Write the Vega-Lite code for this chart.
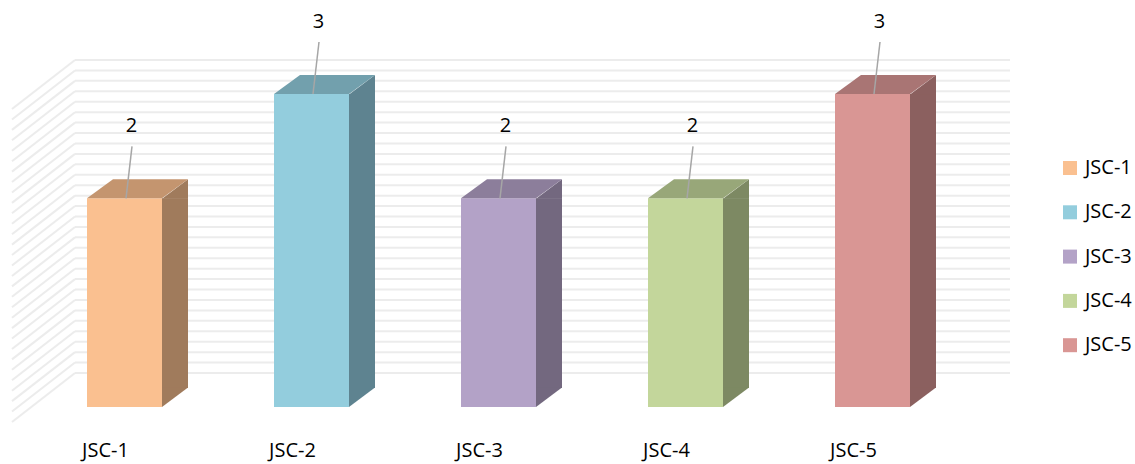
{
  "$schema": "https://vega.github.io/schema/vega-lite/v6.json",
  "width": 935,
  "height": 313,
  "autosize": "none",
  "padding": {"left": 31, "top": 94, "right": 169, "bottom": 57},
  "background": "white",
  "config": {
    "view": {"stroke": null},
    "font": "Open Sans",
    "axisX": {"domain": false, "ticks": false, "tickSize": 0, "grid": false, "labelFont": "Open Sans", "labelFontSize": 20, "labelColor": "#000000", "labelPadding": 49, "labelBaseline": "alphabetic", "labelOffset": -19, "labelAngle": 0}
  },
  "datasets": {
    "bars": [
      {"name": "JSC-1", "value": 2},
      {"name": "JSC-2", "value": 3},
      {"name": "JSC-3", "value": 2},
      {"name": "JSC-4", "value": 2},
      {"name": "JSC-5", "value": 3}
    ],
    "grid": [
      {"v": 0}, {"v": 0.1}, {"v": 0.2}, {"v": 0.3}, {"v": 0.4}, {"v": 0.5}, {"v": 0.6}, {"v": 0.7}, {"v": 0.8}, {"v": 0.9},
      {"v": 1}, {"v": 1.1}, {"v": 1.2}, {"v": 1.3}, {"v": 1.4}, {"v": 1.5}, {"v": 1.6}, {"v": 1.7}, {"v": 1.8}, {"v": 1.9},
      {"v": 2}, {"v": 2.1}, {"v": 2.2}, {"v": 2.3}, {"v": 2.4}, {"v": 2.5}, {"v": 2.6}, {"v": 2.7}, {"v": 2.8}, {"v": 2.9},
      {"v": 3}
    ]
  },
  "resolve": {"scale": {"color": "independent"}},
  "layer": [
    {
      "data": {"name": "grid"},
      "mark": {"type": "rule", "stroke": "#ececec", "strokeWidth": 2, "xOffset": -49.5, "x2Offset": 137.5, "yOffset": -34, "y2Offset": -34},
      "encoding": {
        "x": {"datum": "JSC-1", "type": "nominal", "axis": {"title": null}},
        "x2": {"datum": "JSC-5"},
        "y": {"field": "v", "type": "quantitative", "scale": {"domain": [0, 3], "nice": false, "zero": true}, "axis": null},
        "y2": {"field": "v"}
      }
    },
    {
      "data": {"name": "grid"},
      "mark": {"type": "rule", "stroke": "#ececec", "strokeWidth": 2, "xOffset": -49.5, "x2Offset": -112.5, "yOffset": -34, "y2Offset": 15},
      "encoding": {
        "x": {"datum": "JSC-1", "type": "nominal", "axis": {"title": null}},
        "x2": {"datum": "JSC-1"},
        "y": {"field": "v", "type": "quantitative", "scale": {"domain": [0, 3], "nice": false, "zero": true}, "axis": null},
        "y2": {"field": "v"}
      }
    },
    {
      "data": {"name": "bars"},
      "mark": {"type": "bar", "width": 26, "xOffset": 50.5, "y2Offset": -19},
      "encoding": {
        "x": {"field": "name", "type": "nominal", "scale": {"paddingInner": 0, "paddingOuter": 0}, "axis": {"title": null}},
        "y": {"field": "value", "type": "quantitative", "scale": {"domain": [0, 3], "nice": false, "zero": true}, "axis": null},
        "y2": {"datum": 0},
        "color": {"field": "name", "type": "nominal", "legend": null, "scale": {"range": ["#a07b5c", "#5e8390", "#73687f", "#7d8963", "#8b605f"]}}
      }
    },
    {
      "data": {"name": "bars"},
      "mark": {"type": "point", "shape": "M37.5,-19.5 L63.5,-19.5 L37.5,0 Z", "size": 4, "filled": true, "opacity": 1, "strokeWidth": 0},
      "encoding": {
        "x": {"field": "name", "type": "nominal", "axis": {"title": null}},
        "y": {"datum": 0, "type": "quantitative", "scale": {"domain": [0, 3], "nice": false, "zero": true}, "axis": null},
        "color": {"field": "name", "type": "nominal", "legend": null, "scale": {"range": ["#a07b5c", "#5e8390", "#73687f", "#7d8963", "#8b605f"]}}
      }
    },
    {
      "data": {"name": "bars"},
      "mark": {"type": "point", "shape": "M37.5,0.5 L63.5,-19 L63.5,0.5 Z", "size": 4, "filled": true, "opacity": 1, "strokeWidth": 0},
      "encoding": {
        "x": {"field": "name", "type": "nominal", "axis": {"title": null}},
        "y": {"field": "value", "type": "quantitative", "scale": {"domain": [0, 3], "nice": false, "zero": true}, "axis": null},
        "color": {"field": "name", "type": "nominal", "legend": null, "scale": {"range": ["#a07b5c", "#5e8390", "#73687f", "#7d8963", "#8b605f"]}}
      }
    },
    {
      "data": {"name": "bars"},
      "mark": {"type": "bar", "width": 75},
      "encoding": {
        "x": {"field": "name", "type": "nominal", "axis": {"title": null}},
        "y": {"field": "value", "type": "quantitative", "scale": {"domain": [0, 3], "nice": false, "zero": true}, "axis": null},
        "y2": {"datum": 0},
        "color": {
          "field": "name", "type": "nominal",
          "scale": {"range": ["#fac090", "#93cddd", "#b3a2c7", "#c3d69b", "#d99694"]},
          "legend": {"title": null, "orient": "none", "legendX": 1029, "legendY": 64, "padding": 0, "symbolType": "square", "symbolSize": 196, "symbolStrokeWidth": 0, "labelFont": "Open Sans", "labelFontSize": 20, "labelColor": "#000000", "labelOffset": 5, "rowPadding": 24.3}
        }
      }
    },
    {
      "data": {"name": "bars"},
      "mark": {"type": "point", "shape": "M-37.5,0 L37.5,0 L63.5,-19 L-11.5,-19 Z", "size": 4, "filled": true, "opacity": 1, "strokeWidth": 0},
      "encoding": {
        "x": {"field": "name", "type": "nominal", "axis": {"title": null}},
        "y": {"field": "value", "type": "quantitative", "scale": {"domain": [0, 3], "nice": false, "zero": true}, "axis": null},
        "color": {"field": "name", "type": "nominal", "legend": null, "scale": {"range": ["#c4956f", "#72a0ad", "#8c7e9b", "#98a779", "#a97574"]}}
      }
    },
    {
      "data": {"name": "bars"},
      "mark": {"type": "rule", "stroke": "#a6a6a6", "strokeWidth": 1.5, "xOffset": 1.5, "x2Offset": 7.5, "y2Offset": -52},
      "encoding": {
        "x": {"field": "name", "type": "nominal", "axis": {"title": null}},
        "x2": {"field": "name"},
        "y": {"field": "value", "type": "quantitative", "scale": {"domain": [0, 3], "nice": false, "zero": true}, "axis": null},
        "y2": {"field": "value"}
      }
    },
    {
      "data": {"name": "bars"},
      "mark": {"type": "text", "font": "Open Sans", "fontSize": 20, "color": "#000000", "dx": 7, "dy": -72, "baseline": "middle", "align": "center"},
      "encoding": {
        "x": {"field": "name", "type": "nominal", "axis": {"title": null}},
        "y": {"field": "value", "type": "quantitative", "scale": {"domain": [0, 3], "nice": false, "zero": true}, "axis": null},
        "text": {"field": "value", "type": "quantitative"}
      }
    }
  ]
}
